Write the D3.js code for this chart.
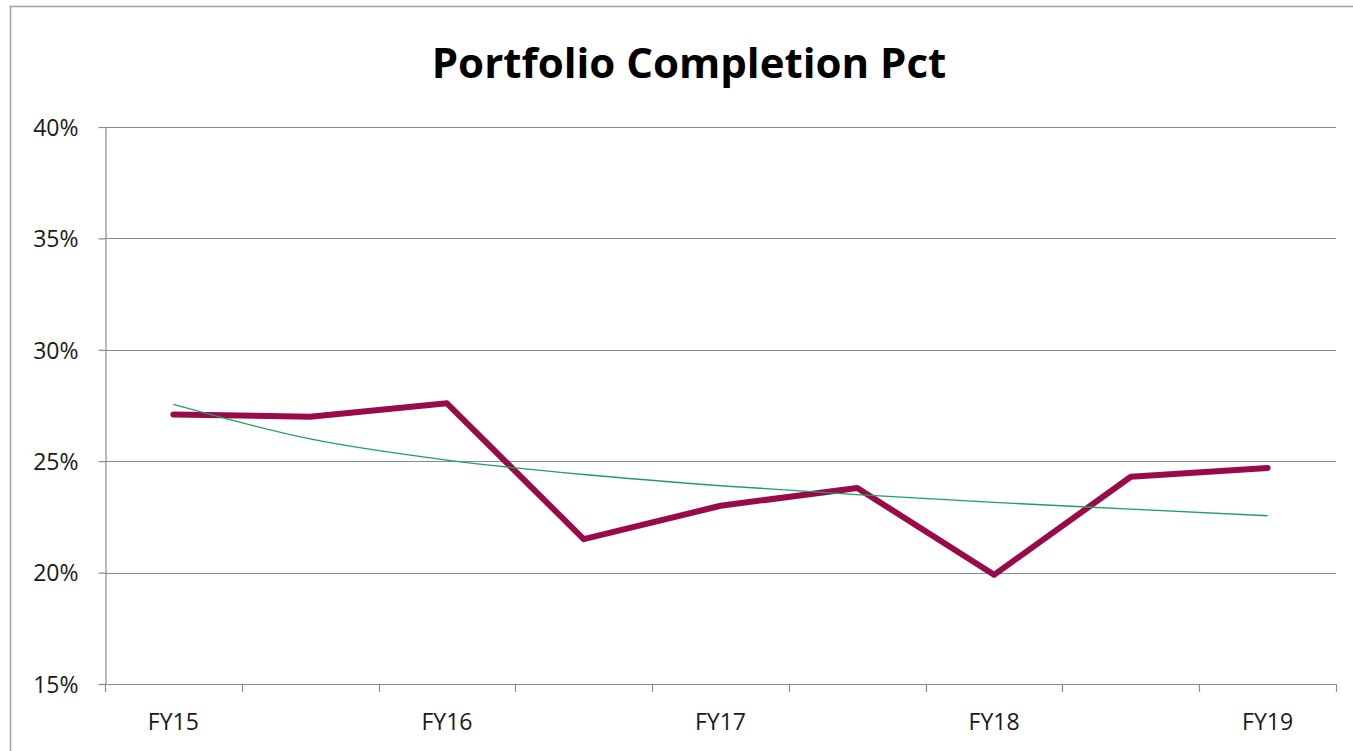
<!DOCTYPE html>
<html><head><meta charset="utf-8">
<script src="https://cdn.jsdelivr.net/npm/d3@7"></script>
<style>body{margin:0;background:#fff;} svg{display:block;}</style>
</head><body>
<script>
const categories = ["FY15","","FY16","","FY17","","FY18","","FY19"];
const completionPct = [27.1, 27.0, 27.6, 21.5, 23.0, 23.8, 19.9, 24.3, 24.7];
const trendPct = [27.55, 26.0, 25.05, 24.4, 23.9, 23.5, 23.15, 22.85, 22.55];
const yTicks = [15, 20, 25, 30, 35, 40];
const title = "Portfolio Completion Pct";

const W = 1353, H = 751;
const m = {left:105, right:1336, top:127, bottom:684};
const svg = d3.select("body").append("svg").attr("width", W).attr("height", H);
svg.append("rect").attr("width", W).attr("height", H).attr("fill", "#fff");
svg.append("rect").attr("x", 10.5).attr("y", 6.5).attr("width", W).attr("height", H)
  .attr("fill","none").attr("stroke","#a0a0a0").attr("stroke-width",1.5);

const font = "'Open Sans', 'Liberation Sans', sans-serif";
svg.append("text").attr("x", 689).attr("y", 78).attr("text-anchor","middle")
  .attr("font-family", font).attr("font-weight","bold").attr("font-size",42).attr("fill","#000").text(title);

const idx = d3.range(categories.length);
const x = d3.scaleBand().domain(idx).range([m.left, m.right]).padding(0);
const y = d3.scaleLinear().domain([15, 40]).range([m.bottom, m.top]);

// gridlines
svg.append("g").selectAll("line").data(yTicks.slice(1)).join("line")
  .attr("x1", m.left).attr("x2", m.right).attr("y1", d => Math.round(y(d))+0.5).attr("y2", d => Math.round(y(d))+0.5)
  .attr("stroke","#8c8c8c").attr("stroke-width",1.2);

// y axis
const yAxis = svg.append("g").attr("transform", `translate(${m.left+0.5},0)`)
  .call(d3.axisLeft(y).tickValues(yTicks).tickFormat(d => d + "%").tickSize(7).tickSizeOuter(0));
yAxis.select(".domain").attr("stroke","#8c8c8c").attr("stroke-width",1.2);
yAxis.selectAll(".tick line").attr("stroke","#8c8c8c").attr("stroke-width",1.2);
yAxis.selectAll("text").attr("font-family", font).attr("font-size",23).attr("fill","#1a1a1a").attr("x",-27).attr("dy","0.36em");

// x axis with ticks at category boundaries
const boundaries = d3.range(categories.length + 1).map(i => m.left + i * x.bandwidth());
const xg = svg.append("g");
xg.append("line").attr("x1", m.left).attr("x2", m.right).attr("y1", m.bottom+0.5).attr("y2", m.bottom+0.5)
  .attr("stroke","#8c8c8c").attr("stroke-width",1.2);
xg.selectAll("line.t").data(boundaries).join("line").attr("class","t")
  .attr("x1", d => Math.round(d)+0.5).attr("x2", d => Math.round(d)+0.5).attr("y1", m.bottom).attr("y2", m.bottom+8)
  .attr("stroke","#8c8c8c").attr("stroke-width",1.2);
xg.selectAll("text").data(idx).join("text")
  .attr("x", d => x(d) + x.bandwidth()/2).attr("y", 730).attr("text-anchor","middle")
  .attr("font-family", font).attr("font-size",23).attr("fill","#1a1a1a").text(d => categories[d]);

const cx = i => x(i) + x.bandwidth()/2;
// main line
svg.append("path").datum(completionPct)
  .attr("d", d3.line().x((d,i) => cx(i)).y(d => y(d)))
  .attr("fill","none").attr("stroke","#990a4a").attr("stroke-width",6).attr("stroke-linejoin","round").attr("stroke-linecap","round");
// trend line
svg.append("path").datum(trendPct)
  .attr("d", d3.line().x((d,i) => cx(i)).y(d => y(d)).curve(d3.curveMonotoneX))
  .attr("fill","none").attr("stroke","#1fa060").attr("stroke-width",1.4);
</script>
</body></html>
